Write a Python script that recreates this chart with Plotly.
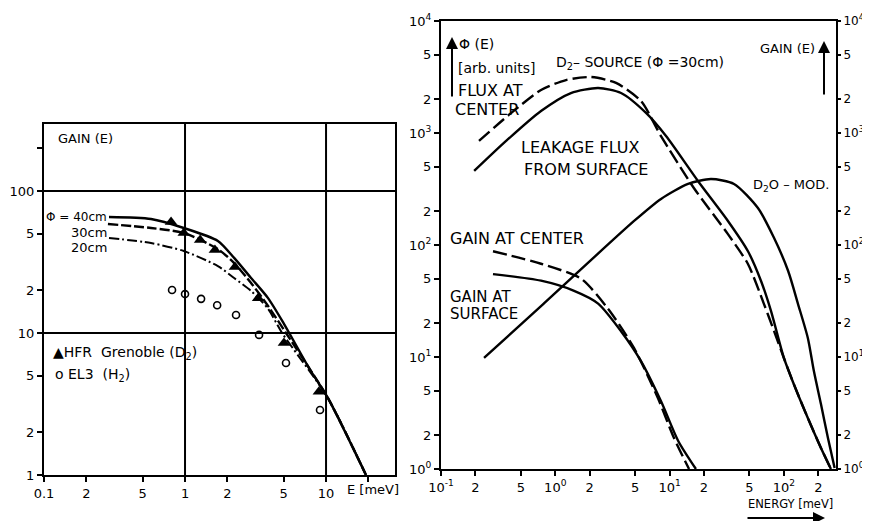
import plotly.graph_objects as go

# ---------------- Left panel: GAIN(E) vs E [meV] ----------------
e_40 = [0.289, 0.574, 0.98, 1.71, 2.23, 2.94, 3.88, 5.03, 7.57, 10.3, 19.2]
g_40 = [65.6, 63.5, 54.9, 44.5, 33.8, 24.4, 17.6, 11.6, 5.67, 3.49, 1.0]
e_30 = [0.284, 0.574, 0.98, 1.71, 2.23, 2.94, 3.88, 5.2, 10.3, 19.2]
g_30 = [58.6, 54.9, 50.6, 39.0, 31.1, 22.5, 15.5, 10.0, 3.49, 1.0]
e_20 = [0.289, 0.574, 0.98, 1.71, 2.23, 2.94, 3.88, 4.88, 10.3, 19.2]
g_20 = [46.7, 43.0, 37.8, 29.6, 24.4, 19.8, 14.8, 10.0, 3.49, 1.0]
hfr_e = [0.796, 0.98, 1.28, 1.63, 2.26, 3.3, 5.03, 8.9]
hfr_g = [60.5, 50.6, 45.2, 38.4, 29.2, 17.6, 8.5, 3.85]
el3_e = [0.809, 1.0, 1.30, 1.69, 2.30, 3.35, 5.2, 9.06]
el3_g = [20.1, 18.8, 17.4, 15.7, 13.4, 9.7, 6.15, 2.87]
left_xticks = [0.1, 0.2, 0.5, 1, 2, 5, 10, 20]
left_xtext = ["0.1", "2", "5", "1", "2", "5", "10", ""]
left_yticks = [1, 2, 5, 10, 20, 50, 100, 200]
left_ytext = ["1", "2", "5", "10", "2", "5", "100", ""]
left_vgrid = [1, 10]
left_hgrid = [10, 100]

# ---------------- Right panel: spectra and gains ----------------
fc_e = [0.215, 0.402, 0.75, 1.24, 2.05, 3.4, 5.62, 8.41, 16.3, 32.4, 48.5, 67.0, 81.9, 100, 122, 162, 211, 258]
fc_y = [850, 1480, 2420, 2970, 3160, 2800, 1930, 939, 323, 125, 67.6, 29.7, 17.1, 9.8, 5.74, 2.85, 1.54, 1.0]
fs_e = [0.195, 0.371, 0.75, 1.37, 2.37, 3.76, 6.22, 9.31, 17.7, 32.4, 48.5, 63.1, 77.1, 100, 122, 162, 211, 258]
fs_y = [458, 849, 1572, 2275, 2523, 2275, 1510, 939, 373, 164, 88, 47.7, 25.8, 9.8, 5.74, 2.85, 1.54, 1.0]
d2o_e = [0.238, 0.75, 4.89, 8.41, 14.5, 23.0, 36.6, 59.3, 81.9, 109, 133, 162, 183, 211, 243, 278]
d2o_y = [9.8, 28.5, 164, 258, 351, 388, 351, 214, 116, 58.6, 29.7, 14.8, 7.5, 3.8, 1.89, 1.02]
gc_e = [0.285, 0.75, 1.68, 2.89, 4.89, 7.9, 10.9, 14.8]
gc_y = [88, 68, 50, 27, 12, 4.3, 1.9, 1.0]
gs_e = [0.285, 0.75, 1.46, 2.37, 3.76, 5.62, 8.4, 11.9, 17.0]
gs_y = [55, 48, 39, 30, 17, 9.2, 4.05, 1.78, 1.0]
right_xticks = [0.1, 0.2, 0.5, 1, 2, 5, 10, 20, 50, 100, 200]
right_xtext = ["10<sup>-1</sup>", "2", "5", "10<sup>0</sup>", "2", "5",
               "10<sup>1</sup>", "2", "5", "10<sup>2</sup>", "2"]
right_yticks = [1, 2, 5, 10, 20, 50, 100, 200, 500, 1000, 2000, 5000, 10000]
right_ytext = ["10<sup>0</sup>", "2", "5", "10<sup>1</sup>", "2", "5", "10<sup>2</sup>",
               "2", "5", "10<sup>3</sup>", "2", "5", "10<sup>4</sup>"]

FONT = "DejaVu Sans"
K = "black"
W, H = 863, 514      # figure size (page body keeps its default margin)
OFF = 7


def PX(x):
    return (x - OFF) / W


def PY(y):
    return 1 - (y - OFF) / H


fig = go.Figure()


def line(x, y, dash, xa, ya, w=2.4):
    fig.add_trace(go.Scatter(x=x, y=y, mode="lines", xaxis=xa, yaxis=ya,
                             line=dict(color=K, width=w, dash=dash, shape="spline", smoothing=0.7),
                             showlegend=False, hoverinfo="skip"))


line(e_40, g_40, "solid", "x", "y")
line(e_30, g_30, "10px,3px", "x", "y")
line(e_20, g_20, "10px,3px,2px,3px", "x", "y", 2.0)
fig.add_trace(go.Scatter(x=hfr_e, y=hfr_g, mode="markers", xaxis="x", yaxis="y",
                         marker=dict(symbol="triangle-up", size=11, color=K),
                         showlegend=False, hoverinfo="skip"))
fig.add_trace(go.Scatter(x=el3_e, y=el3_g, mode="markers", xaxis="x", yaxis="y",
                         marker=dict(symbol="circle-open", size=7, color=K, line=dict(width=1.6)),
                         showlegend=False, hoverinfo="skip"))

line(fc_e, fc_y, "14px,5px", "x2", "y2")
line(fs_e, fs_y, "solid", "x2", "y2")
line(d2o_e, d2o_y, "solid", "x2", "y2")
line(gc_e, gc_y, "14px,5px", "x2", "y2")
line(gs_e, gs_y, "solid", "x2", "y2")
fig.add_trace(go.Scatter(x=[], y=[], xaxis="x2", yaxis="y3", showlegend=False, hoverinfo="skip"))

axis_common = dict(type="log", showgrid=False, zeroline=False, showline=True, linecolor=K,
                   linewidth=2, ticks="outside", ticklen=5, tickwidth=1.5, tickcolor=K,
                   automargin=False,
                   tickfont=dict(family=FONT, size=13, color=K), tickmode="array")

fig.update_layout(
    template="none",
    width=W, height=H, margin=dict(l=0, r=0, t=0, b=0),
    paper_bgcolor="white", plot_bgcolor="white", showlegend=False,
    xaxis=dict(axis_common, domain=[PX(43), PX(394)], range=[-1, 1.489], anchor="y",
               mirror=True, tickvals=left_xticks, ticktext=left_xtext),
    yaxis=dict(axis_common, domain=[PY(474), PY(123)], range=[0, 2.472], anchor="x",
               mirror=True, tickvals=left_yticks, ticktext=left_ytext),
    xaxis2=dict(axis_common, domain=[PX(440), PX(835)], range=[-1, 2.456], anchor="y2",
                mirror=True, tickvals=right_xticks, ticktext=right_xtext),
    yaxis2=dict(axis_common, domain=[PY(468), PY(20)], range=[0, 4], anchor="x2",
                mirror=True, tickvals=right_yticks, ticktext=right_ytext),
    yaxis3=dict(axis_common, range=[0, 4], anchor="x2", overlaying="y2", side="right",
                showline=False, tickvals=right_yticks, ticktext=right_ytext,
                ticklen=4, tickfont=dict(family=FONT, size=12, color=K)),
)

shapes = []
for v in left_vgrid:
    shapes.append(dict(type="line", xref="x", yref="y domain", x0=v, x1=v, y0=0, y1=1,
                       line=dict(color=K, width=2), layer="below"))
for h in left_hgrid:
    shapes.append(dict(type="line", xref="x domain", yref="y", x0=0, x1=1, y0=h, y1=h,
                       line=dict(color=K, width=2), layer="below"))
fig.update_layout(shapes=shapes)


def txt(s, px, py, anchor="left", size=13):
    fig.add_annotation(text=s, x=PX(px), y=PY(py), xref="paper", yref="paper",
                       xanchor=anchor, yanchor="middle", showarrow=False,
                       font=dict(family=FONT, size=size, color=K))


# left panel texts
txt("GAIN (E)", 55, 137, size=13)
txt("Φ = 40cm", 108, 216, "right", 12)
txt("30cm", 108, 231, "right", 13)
txt("20cm", 108, 246, "right", 13)
txt("▲HFR  Grenoble (D<sub>2</sub>)", 50, 352, size=14)
txt("ο EL3  (H<sub>2</sub>)", 52, 374, size=14)
txt("E [meV]", 344, 488, size=13)

# right panel texts
txt("Φ (E)", 456, 43, size=14)
txt("[arb. units]", 455, 67, size=14)
txt("FLUX AT", 455, 90, size=16)
txt("CENTER", 452, 109, size=16)
txt("D<sub>2</sub>– SOURCE (Φ =30cm)", 553, 62, size=14)
txt("LEAKAGE FLUX", 518, 147, size=16)
txt("FROM SURFACE", 521, 168, size=16)
txt("D<sub>2</sub>O – MOD.", 750, 184, size=13)
txt("GAIN AT CENTER", 447, 238, size=16)
txt("GAIN AT", 447, 296, size=15)
txt("SURFACE", 447, 313, size=15)
txt("GAIN (E)", 757, 48, size=13)
txt("ENERGY [meV]", 745, 503, size=11.5)


def arrow(hx, hy, tx, ty):
    fig.add_annotation(text="", x=PX(hx), y=PY(hy), xref="paper", yref="paper",
                       ax=tx - hx, ay=ty - hy, axref="pixel", ayref="pixel",
                       showarrow=True, arrowhead=2, arrowsize=1.2, arrowwidth=2, arrowcolor=K)


arrow(451, 36, 451, 97)
arrow(823, 40, 823, 95)
arrow(824, 517, 745, 517)

fig.write_html("out.html")
